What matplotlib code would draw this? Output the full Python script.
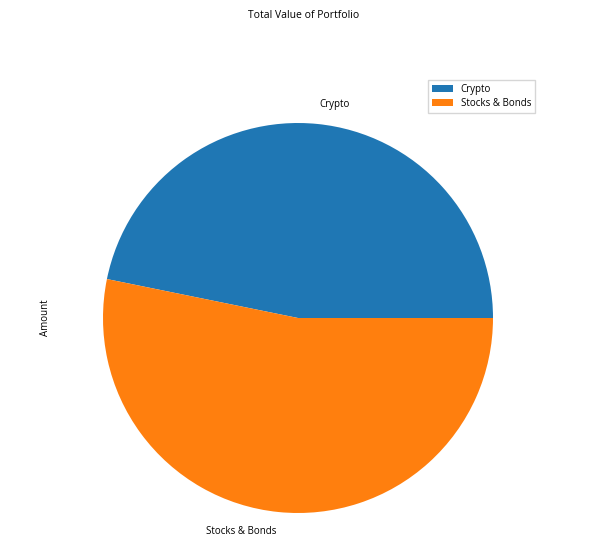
import matplotlib
matplotlib.use("Agg")
import matplotlib.pyplot as plt

plt.rcParams['font.family'] = ['Open Sans', 'DejaVu Sans']

categories = ["Crypto", "Stocks & Bonds"]
amounts = [46.8, 53.2]
colors = ["#1f77b4", "#ff7f0e"]

W, H = 607, 560
fig = plt.figure(figsize=(W / 100, H / 100), dpi=100)

cx, cy, r = 298, 318, 195
ax = fig.add_axes([(cx - r) / W, 1 - (cy + r) / H, 2 * r / W, 2 * r / H])
wedges, texts = ax.pie(amounts, labels=categories, colors=colors,
                       labeldistance=1.1, textprops={'fontsize': 7})
ax.set_xlim(-1, 1)
ax.set_ylim(-1, 1)
ax.set_aspect('auto')
ax.axis('off')

fig.text(0.5, 1 - 15 / H, "Total Value of Portfolio", ha='center', va='center', fontsize=7.5)
fig.text(45 / W, 1 - 318 / H, "Amount", rotation=90, ha='center', va='center', fontsize=7)

fig.legend(wedges, categories, loc='upper right', bbox_to_anchor=(540 / W, 1 - 75 / H),
           fontsize=7, frameon=True, fancybox=False, edgecolor='#cccccc',
           handlelength=2.2, borderpad=0.4, labelspacing=0.3)

fig.savefig("out.png", dpi=100)
